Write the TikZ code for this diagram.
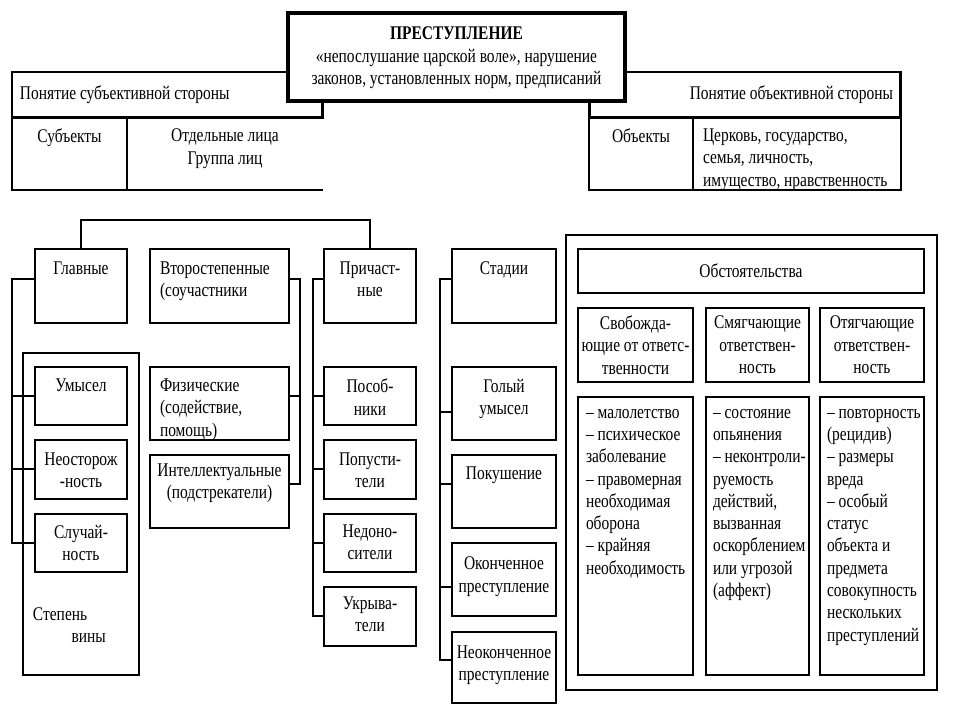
\documentclass[tikz,border=0pt]{standalone}
\usepackage{fontspec}
\setmainfont{Liberation Serif}[FakeStretch=0.8]
\usetikzlibrary{positioning}

\begin{document}
\begin{tikzpicture}[x=0.02cm,y=-0.02cm]

  %Styles for picture
  \tikzset
  {
  box/.style={draw, rectangle, inner sep=0pt, outer sep=0pt, anchor=north west, line width=0.7pt},
  bigbox/.style={box, line width=2.2pt, fill=white},
  headbox/.style={box, line width=1.7pt, fill=white},
  txt/.style={inner sep=0pt, outer sep=0pt, align=center, font=\fontsize{11}{12.7}\selectfont},
  ltxt/.style={txt, align=left},
  link/.style={line width=0.7pt},
  }

  \useasboundingbox (0,0) rectangle (960,720);

  %Subjective and objective side
  \node[box, minimum width=2.30cm, minimum height=1.44cm] (subja) at (12,118) {};
  \node[box, draw=none, minimum width=3.92cm, minimum height=1.44cm] (subjb) at (127,118) {};
  \draw[link] (subja.south east) -- (subjb.south east);
  \node[headbox, minimum width=6.22cm, minimum height=0.92cm] (subjh) at (12,72) {};
  \node[box, minimum width=2.08cm, minimum height=1.44cm] (obja) at (589,118) {};
  \node[box, minimum width=4.16cm, minimum height=1.44cm] (objb) at (693,118) {};
  \node[headbox, minimum width=6.24cm, minimum height=0.92cm] (objh) at (589,72) {};

  \node[txt, anchor=west] (subjh-t) at ([xshift=0.16cm]subjh.west) {Понятие субъективной стороны};
  \node[txt, anchor=east] (objh-t) at ([xshift=-0.16cm]objh.east) {Понятие объективной стороны};
  \node[txt, below=0.22cm of subja.north] (subja-t) {Субъекты};
  \node[txt, below=0.22cm of subjb.north] (subjb-t) {Отдельные лица\\Группа лиц};
  \node[txt, below=0.22cm of obja.north] (obja-t) {Объекты};
  \node[ltxt, below right=0.22cm and 0.2cm of objb.north west] (objb-t) {Церковь, государство,\\семья, личность,\\имущество, нравственность};

  %Crime
  \node[bigbox, minimum width=6.74cm, minimum height=1.76cm] (crime) at (288,13) {};
  \node[txt, below=0.28cm of crime.north] (crime-t) {\textbf{ПРЕСТУПЛЕНИЕ}\\«непослушание царской воле», нарушение\\законов, установленных норм, предписаний};

  %Participants
  \node[box, minimum width=1.84cm, minimum height=1.48cm] (glav) at (35,249) {};
  \node[box, minimum width=2.78cm, minimum height=1.48cm] (vtor) at (150,249) {};
  \node[box, minimum width=1.84cm, minimum height=1.48cm] (prich) at (324,249) {};
  \node[box, minimum width=2.08cm, minimum height=1.48cm] (stad) at (452,249) {};

  \node[txt, below=0.26cm of glav.north] (glav-t) {Главные};
  \node[ltxt, below right=0.26cm and 0.2cm of vtor.north west] (vtor-t) {Второстепенные\\(соучастники};
  \node[txt, below=0.26cm of prich.north] (prich-t) {Причаст-\\ные};
  \node[txt, below=0.26cm of stad.north] (stad-t) {Стадии};

  \node[box, minimum width=2.32cm, minimum height=6.44cm] (vina) at (23,353) {};
  \node[box, minimum width=1.84cm, minimum height=1.16cm] (umys) at (35,367) {};
  \node[box, minimum width=1.84cm, minimum height=1.18cm] (neost) at (35,440) {};
  \node[box, minimum width=1.84cm, minimum height=1.16cm] (sluch) at (35,514) {};

  \node[txt, below=0.24cm of umys.north] (umys-t) {Умысел};
  \node[txt, below=0.26cm of neost.north] (neost-t) {Неосторож\\-ность};
  \node[txt, below=0.22cm of sluch.north] (sluch-t) {Случай-\\ность};
  \node[ltxt, above right=0.64cm and 0.2cm of vina.south west] (vina-t) {Степень\\\hspace*{22pt}вины};

  \node[box, minimum width=2.78cm, minimum height=1.46cm] (fiz) at (150,367) {};
  \node[box, minimum width=2.78cm, minimum height=1.46cm] (intel) at (150,455) {};
  \node[ltxt, below right=0.24cm and 0.2cm of fiz.north west] (fiz-t) {Физические\\(содействие,\\помощь)};
  \node[txt, below=0.18cm of intel.north] (intel-t) {Интеллектуальные\\(подстрекатели)};

  \node[box, minimum width=1.84cm, minimum height=1.16cm] (posob) at (324,367) {};
  \node[box, minimum width=1.84cm, minimum height=1.18cm] (popust) at (324,440) {};
  \node[box, minimum width=1.84cm, minimum height=1.16cm] (nedon) at (324,514) {};
  \node[box, minimum width=1.84cm, minimum height=1.18cm] (ukryv) at (324,587) {};
  \node[txt, below=0.24cm of posob.north] (posob-t) {Пособ-\\ники};
  \node[txt, below=0.26cm of popust.north] (popust-t) {Попусти-\\тели};
  \node[txt, below=0.22cm of nedon.north] (nedon-t) {Недоно-\\сители};
  \node[txt, below=0.2cm of ukryv.north] (ukryv-t) {Укрыва-\\тели};

  %Stages
  \node[box, minimum width=2.08cm, minimum height=1.46cm] (golyj) at (452,367) {};
  \node[box, minimum width=2.08cm, minimum height=1.46cm] (pokush) at (452,455) {};
  \node[box, minimum width=2.08cm, minimum height=1.46cm] (okonch) at (452,543) {};
  \node[box, minimum width=2.08cm, minimum height=1.42cm] (neok) at (452,632) {};
  \node[txt, below=0.24cm of golyj.north] (golyj-t) {Голый\\умысел};
  \node[txt, below=0.24cm of pokush.north] (pokush-t) {Покушение};
  \node[txt, below=0.28cm of okonch.north] (okonch-t) {Оконченное\\преступление};
  \node[txt, below=0.28cm of neok.north] (neok-t) {Неоконченное\\преступление};

  %Circumstances
  \node[box, minimum width=7.42cm, minimum height=9.10cm] (circ) at (566,235) {};
  \node[box, minimum width=6.92cm, minimum height=0.88cm] (circh) at (578,249) {};
  \node[txt] (circh-t) at (circh.center) {Обстоятельства};
  \node[box, minimum width=2.30cm, minimum height=1.48cm] (svob) at (578,308) {};
  \node[box, minimum width=2.06cm, minimum height=1.48cm] (smyag) at (706,308) {};
  \node[box, minimum width=2.08cm, minimum height=1.48cm] (otyag) at (820,308) {};
  \node[txt] (svob-t) at (svob.center) {Свобожда-\\ющие от ответс-\\твенности};
  \node[txt] (smyag-t) at (smyag.center) {Смягчающие\\ответствен-\\ность};
  \node[txt] (otyag-t) at (otyag.center) {Отягчающие\\ответствен-\\ность};

  \node[box, minimum width=2.30cm, minimum height=5.56cm] (svobl) at (578,397) {};
  \node[box, minimum width=2.06cm, minimum height=5.56cm] (smyagl) at (706,397) {};
  \node[box, minimum width=2.08cm, minimum height=5.56cm] (otyagl) at (820,397) {};
  \node[ltxt, below right=0.24cm and 0.16cm of svobl.north west] (svobl-t)
    {– малолетство\\– психическое\\заболевание\\– правомерная\\необходимая\\оборона\\– крайняя\\необходимость};
  \node[ltxt, below right=0.24cm and 0.14cm of smyagl.north west] (smyagl-t)
    {– состояние\\опьянения\\– неконтроли-\\руемость\\действий,\\вызванная\\оскорблением\\или угрозой\\(аффект)};
  \node[ltxt, below right=0.24cm and 0.14cm of otyagl.north west] (otyagl-t)
    {– повторность\\(рецидив)\\– размеры\\вреда\\– особый\\статус\\объекта и\\предмета\\совокупность\\нескольких\\преступлений};

  %Link ends
  \coordinate (umys-in) at ([yshift=-0.58cm]umys.north west);
  \coordinate (neost-in) at ([yshift=-0.58cm]neost.north west);
  \coordinate (sluch-in) at ([yshift=-0.58cm]sluch.north west);
  \coordinate (fiz-in) at ([yshift=-0.58cm]fiz.north east);
  \coordinate (intel-in) at ([yshift=-0.58cm]intel.north east);
  \coordinate (posob-in) at ([yshift=-0.58cm]posob.north west);
  \coordinate (popust-in) at ([yshift=-0.58cm]popust.north west);
  \coordinate (nedon-in) at ([yshift=-0.58cm]nedon.north west);
  \coordinate (ukryv-in) at ([yshift=-0.58cm]ukryv.north west);
  \coordinate (golyj-in) at ([yshift=-0.9cm]golyj.north west);
  \coordinate (pokush-in) at ([yshift=-0.58cm]pokush.north west);
  \coordinate (okonch-in) at ([yshift=-0.88cm]okonch.north west);
  \coordinate (neok-in) at ([yshift=-0.56cm]neok.north west);

  %Links
  \coordinate (topbar) at (0,220);
  \draw[link] (glav.north) |- (topbar -| prich.north) -- (prich.north);

  \coordinate (lsp) at (12,279);
  \draw[link] (lsp -| glav.west) -- (lsp) |- (sluch-in);
  \draw[link] (lsp |- umys-in) -- (umys-in);
  \draw[link] (lsp |- neost-in) -- (neost-in);

  \coordinate (vsp) at (300,279);
  \draw[link] (vsp -| vtor.east) -- (vsp) |- (intel-in);
  \draw[link] (vsp |- fiz-in) -- (fiz-in);

  \coordinate (psp) at (313,279);
  \draw[link] (psp -| prich.west) -- (psp) |- (ukryv-in);
  \draw[link] (psp |- posob-in) -- (posob-in);
  \draw[link] (psp |- popust-in) -- (popust-in);
  \draw[link] (psp |- nedon-in) -- (nedon-in);

  \coordinate (ssp) at (440,279);
  \draw[link] (ssp -| stad.west) -- (ssp) |- (neok-in);
  \draw[link] (ssp |- golyj-in) -- (golyj-in);
  \draw[link] (ssp |- pokush-in) -- (pokush-in);
  \draw[link] (ssp |- okonch-in) -- (okonch-in);
\end{tikzpicture}
\end{document}
